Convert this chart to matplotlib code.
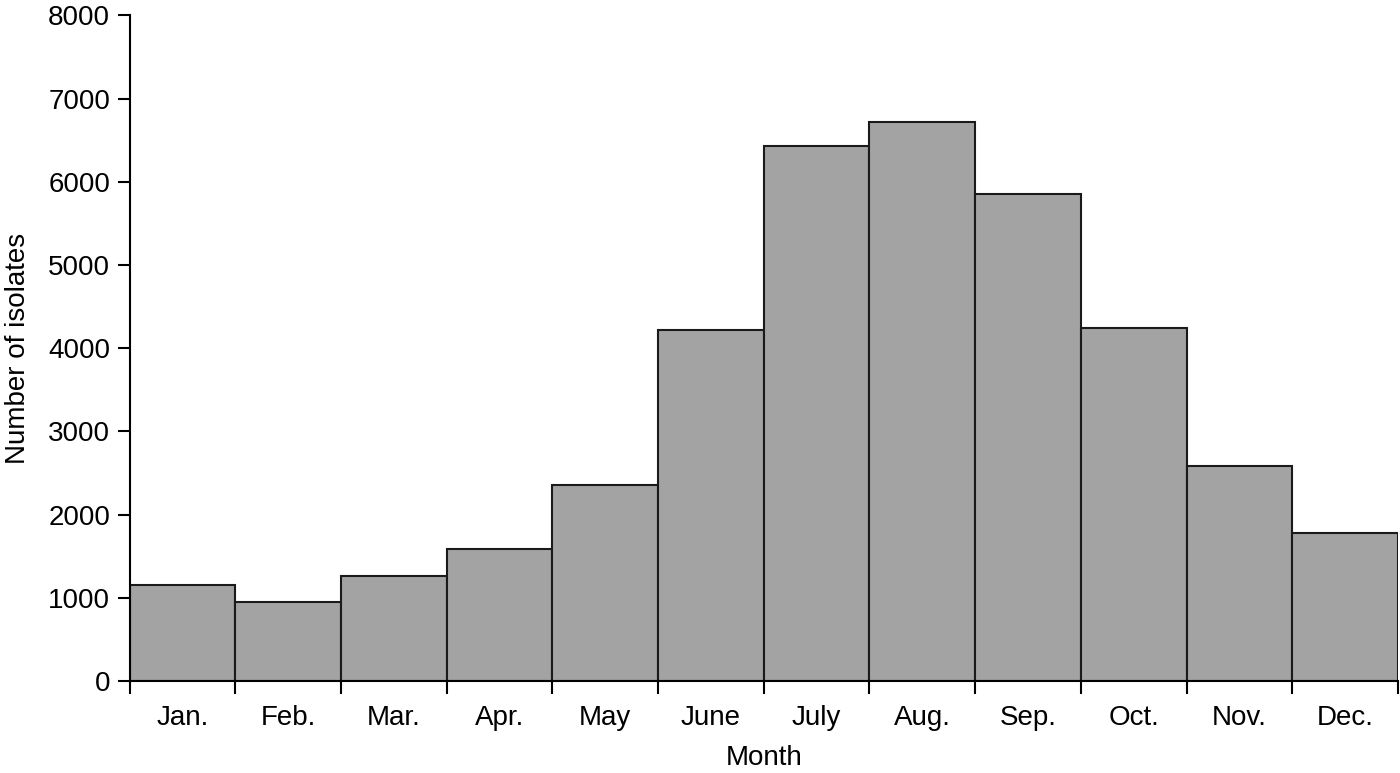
import numpy as np
import matplotlib.pyplot as plt

months = ['Jan.', 'Feb.', 'Mar.', 'Apr.', 'May', 'June', 'July', 'Aug.', 'Sep.', 'Oct.', 'Nov.', 'Dec.']
isolates = [1160, 945, 1258, 1585, 2355, 4222, 6425, 6715, 5850, 4240, 2585, 1780]

plt.rcParams['font.family'] = ['Liberation Sans', 'DejaVu Sans']

fig = plt.figure(figsize=(14, 7.73), dpi=100)
ax = fig.add_axes([0.0925, 0.119, 0.9061, 0.861])

x = np.arange(len(months))
ax.bar(x + 0.5, isolates, width=1.0, color='#a3a3a3', edgecolor='#1a1a1a', linewidth=1.5)

ax.set_xlim(0, len(months))
ax.set_ylim(0, 8000)
ax.set_yticks(range(0, 8001, 1000))
ax.set_xticks(np.arange(len(months) + 1))
ax.set_xticklabels([])
ax.set_xticks(x + 0.5, minor=True)
ax.set_xticklabels(months, minor=True)
ax.tick_params(axis='x', which='minor', length=0, pad=17, labelsize=20)
ax.tick_params(axis='x', which='major', length=9, width=1.5, direction='out')
ax.tick_params(axis='y', length=9, width=1.5, labelsize=20, pad=5)

for s in ['top', 'right']:
    ax.spines[s].set_visible(False)
for s in ['left', 'bottom']:
    ax.spines[s].set_linewidth(1.5)

ax.set_xlabel('Month', fontsize=20, labelpad=10)
ax.set_ylabel('Number of isolates', fontsize=20, labelpad=12)

fig.savefig('out.png', dpi=100)
